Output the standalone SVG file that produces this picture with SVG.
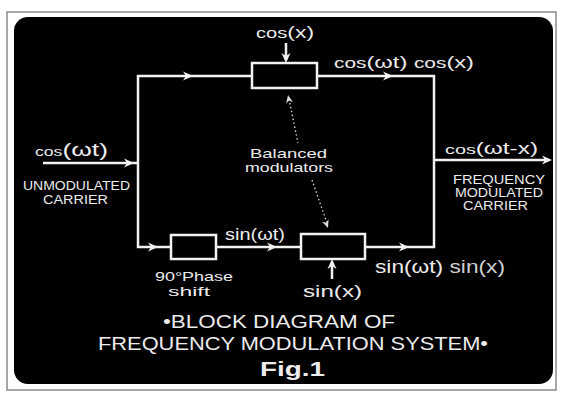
<svg xmlns="http://www.w3.org/2000/svg" xmlns:xlink="http://www.w3.org/1999/xlink" width="561" height="395" viewBox="0 0 561 395">
<style>
.ln{stroke:#f2f2f2;stroke-width:2.5;fill:none}
.box{stroke:#f2f2f2;stroke-width:2.5;fill:#000}
.dot{stroke:#dcdcdc;stroke-width:1.3;stroke-dasharray:1.5 2.5;fill:none}
.t{font-family:"Liberation Sans",Arial,sans-serif;fill:#ececec}
.cap{font-size:12px}
.ttl{font-size:18px}
</style>
<defs>
<path id="ah" d="M0,0 L-10,-4.5 L-7,0 L-10,4.5 Z" fill="#f2f2f2"/>
<path id="ahs" d="M0,0 L-8,-3.5 L-5.5,0 L-8,3.5 Z" fill="#dcdcdc"/>
</defs>
<rect width="561" height="395" fill="#fff"/>
<rect x="7" y="12" width="549" height="378" fill="none" stroke="#8a8a8a" stroke-width="1.5"/>
<rect x="14" y="17" width="539" height="367" rx="14" fill="#000"/>

<g id="connectors">
<polyline class="ln" points="43,163 138,163"/>
<polyline class="ln" points="252,76 138,76 138,247 171,247"/>
<polyline class="ln" points="216,247 301,247"/>
<polyline class="ln" points="317,76 434,76 434,247 365,247"/>
<polyline class="ln" points="434,160 548,160"/>
<line class="ln" x1="286" y1="43" x2="286" y2="60"/>
<line class="ln" x1="332" y1="279" x2="332" y2="262"/>
<line class="dot" x1="289" y1="99" x2="298" y2="143"/>
<line class="dot" x1="312" y1="180" x2="327" y2="223"/>
<use xlink:href="#ah" transform="translate(134,163)"/>
<use xlink:href="#ah" transform="translate(193,76)"/>
<use xlink:href="#ah" transform="translate(393,76)"/>
<use xlink:href="#ah" transform="translate(158,247)"/>
<use xlink:href="#ah" transform="translate(277,247)"/>
<use xlink:href="#ah" transform="translate(409,247)"/>
<use xlink:href="#ah" transform="translate(552,160)"/>
<use xlink:href="#ah" transform="translate(286,63) rotate(90)"/>
<use xlink:href="#ah" transform="translate(332,259) rotate(-90)"/>
<use xlink:href="#ahs" transform="translate(288,95) rotate(-101)"/>
<use xlink:href="#ahs" transform="translate(328,228) rotate(70)"/>
</g>

<g id="top-modulator">
<rect class="box" x="252" y="63" width="65" height="25"/>
</g>
<g id="phase-shifter">
<rect class="box" x="171" y="235" width="45" height="24"/>
</g>
<g id="bottom-modulator">
<rect class="box" x="301" y="234" width="64" height="25"/>
</g>

<g id="labels">
<text class="t" x="256" y="38" font-size="17" textLength="58" lengthAdjust="spacingAndGlyphs"><tspan font-size="15">cos</tspan>(x)</text>
<text class="t" x="334" y="68" font-size="17" textLength="140" lengthAdjust="spacingAndGlyphs"><tspan font-size="15">cos</tspan>(ωt) <tspan font-size="15">cos</tspan>(x)</text>
<text class="t" x="35" y="156" font-size="18" textLength="73" lengthAdjust="spacingAndGlyphs"><tspan font-size="12">cos</tspan>(ωt)</text>
<text class="t cap" x="76.5" y="190" text-anchor="middle" textLength="107" lengthAdjust="spacingAndGlyphs">UNMODULATED</text>
<text class="t cap" x="75.5" y="204" text-anchor="middle" textLength="65" lengthAdjust="spacingAndGlyphs">CARRIER</text>
<text class="t" x="445" y="154" font-size="16" textLength="93" lengthAdjust="spacingAndGlyphs"><tspan font-size="13">cos</tspan>(ωt-x)</text>
<text class="t cap" x="499" y="184" text-anchor="middle" textLength="92" lengthAdjust="spacingAndGlyphs">FREQUENCY</text>
<text class="t cap" x="499" y="197" text-anchor="middle" textLength="88" lengthAdjust="spacingAndGlyphs">MODULATED</text>
<text class="t cap" x="495.5" y="210" text-anchor="middle" textLength="65" lengthAdjust="spacingAndGlyphs">CARRIER</text>
<text class="t" x="288.5" y="158" font-size="13" text-anchor="middle" textLength="77" lengthAdjust="spacingAndGlyphs">Balanced</text>
<text class="t" x="289" y="172" font-size="13" text-anchor="middle" textLength="88" lengthAdjust="spacingAndGlyphs">modulators</text>
<text class="t" x="225" y="240" font-size="16" textLength="60" lengthAdjust="spacingAndGlyphs">sin(ωt)</text>
<text class="t" x="155" y="281" font-size="13" textLength="78" lengthAdjust="spacingAndGlyphs">90°Phase</text>
<text class="t" x="168" y="296" font-size="13" textLength="42" lengthAdjust="spacingAndGlyphs">shift</text>
<text class="t" x="303" y="297" font-size="17" textLength="59" lengthAdjust="spacingAndGlyphs">sin(x)</text>
<text class="t" x="375" y="273" font-size="18" textLength="130" lengthAdjust="spacingAndGlyphs">sin(ωt) <tspan fill="#cfcfcf">sin(x)</tspan></text>
<text class="t ttl" x="163" y="328" textLength="232" lengthAdjust="spacingAndGlyphs">•BLOCK DIAGRAM OF</text>
<text class="t ttl" x="98" y="350" textLength="390" lengthAdjust="spacingAndGlyphs">FREQUENCY MODULATION SYSTEM•</text>
<text class="t" x="260" y="376" font-size="21" font-weight="bold" textLength="65" lengthAdjust="spacingAndGlyphs">Fig.1</text>
</g>
</svg>
